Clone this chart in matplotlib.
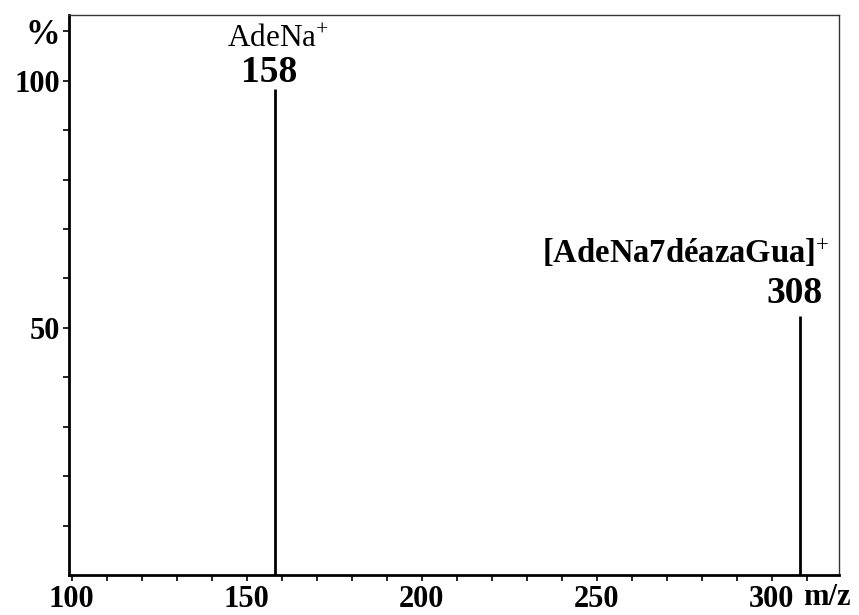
import matplotlib
matplotlib.use("Agg")
import matplotlib.pyplot as plt
from matplotlib.ticker import FixedLocator

mz = [158, 308]
intensity = [98.4, 52.4]
ion_names = [r"AdeNa$^{+}$", r"[AdeNa7déazaGua]$^{+}$"]
ion_weights = ["normal", "bold"]
x_ticks = [100, 150, 200, 250, 300]
x_minor = [110, 120, 130, 140, 160, 170, 180, 190, 210, 220, 230, 240,
           260, 270, 280, 290, 310]
y_ticks = [50, 100, 110]
y_tick_labels = ["50", "100", "%"]
y_minor = [10, 20, 30, 40, 60, 70, 80, 90]

plt.rcParams["font.family"] = ["Liberation Serif", "DejaVu Serif"]
plt.rcParams["mathtext.fontset"] = "custom"
plt.rcParams["mathtext.rm"] = "Liberation Serif"
plt.rcParams["mathtext.it"] = "Liberation Serif"
plt.rcParams["mathtext.bf"] = "Liberation Serif:bold"

W, H = 859, 615
fig = plt.figure(figsize=(W / 100, H / 100), dpi=100)
ax = fig.add_axes([69 / W, (H - 575) / H, (839 - 69) / W, (575 - 15) / H])

ax.vlines(mz, 0, intensity, color="black", linewidth=2.0)

ax.set_xlim(99.2, 319.2)
ax.set_ylim(0, 113.3)

ax.xaxis.set_major_locator(FixedLocator(x_ticks))
ax.xaxis.set_minor_locator(FixedLocator(x_minor))
ax.yaxis.set_major_locator(FixedLocator(y_ticks))
ax.yaxis.set_minor_locator(FixedLocator(y_minor))
ax.set_xticklabels([str(t) for t in x_ticks])
ax.set_yticklabels(y_tick_labels)

for lab in ax.get_xticklabels() + ax.get_yticklabels():
    lab.set_fontweight("bold")
    lab.set_fontsize(22)
ax.get_yticklabels()[-1].set_fontsize(25)

ax.tick_params(axis="x", which="both", direction="out", length=4, width=1.2, pad=3)
ax.tick_params(axis="y", which="both", direction="out", length=4.5, width=1.2, pad=2)

for side in ["left", "bottom"]:
    ax.spines[side].set_linewidth(2.0)
for side in ["top", "right"]:
    ax.spines[side].set_linewidth(1.0)
    ax.spines[side].set_color("#333333")

# peak annotations
ax.annotate(str(mz[0]), xy=(mz[0], intensity[0]), xytext=(-6, 7),
            textcoords="offset pixels", ha="center", va="baseline",
            fontsize=27, fontweight="bold")
ax.annotate(ion_names[0], xy=(mz[0], intensity[0]), xytext=(3, 42),
            textcoords="offset pixels", ha="center", va="baseline",
            fontsize=22.5, fontweight=ion_weights[0])
ax.annotate(str(mz[1]), xy=(mz[1], intensity[1]), xytext=(-5, 13),
            textcoords="offset pixels", ha="center", va="baseline",
            fontsize=27, fontweight="bold")
ax.annotate(ion_names[1], xy=(mz[1], intensity[1]), xytext=(30, 53),
            textcoords="offset pixels", ha="right", va="baseline",
            fontsize=23.5, fontweight=ion_weights[1])

fig.text(803 / W, (H - 583) / H, "m/z", ha="left", va="top",
         fontsize=22, fontweight="bold")

fig.savefig("out.png", dpi=100, facecolor="white")
